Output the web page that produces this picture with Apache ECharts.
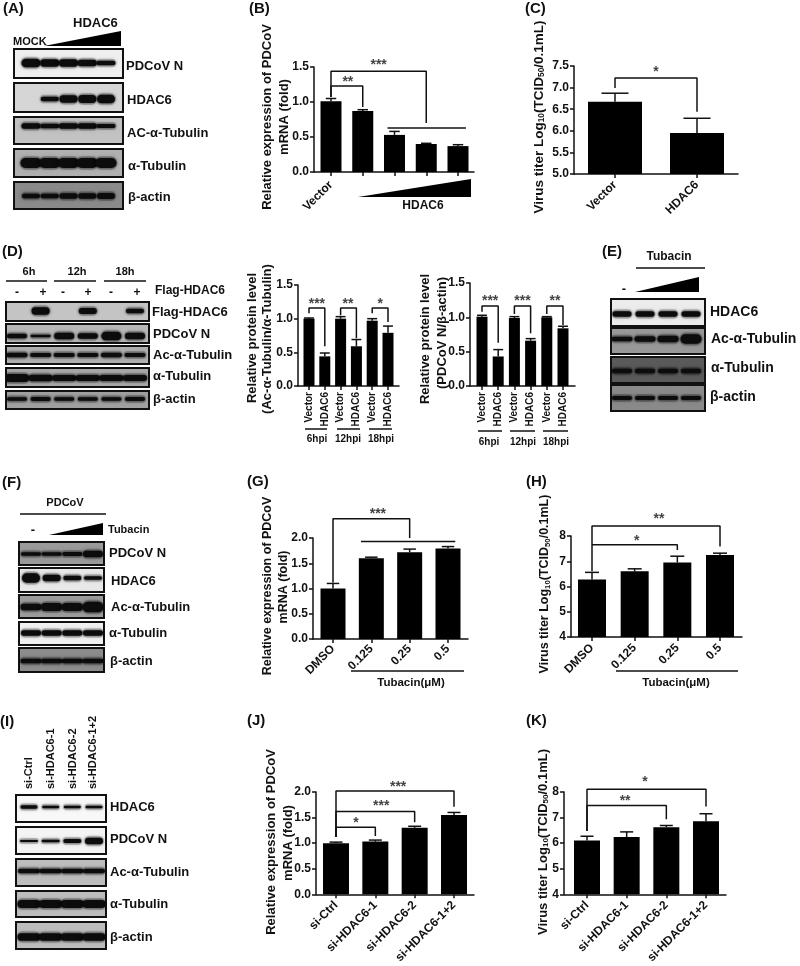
<!DOCTYPE html>
<html><head><meta charset="utf-8">
<style>html,body{margin:0;padding:0;background:#fff}#c{width:800px;height:966px}</style>
<script src="https://cdn.jsdelivr.net/npm/echarts@6/dist/echarts.min.js"></script>
</head><body><div id="c"></div>
<script>
// ---------- bar chart data ----------
const catsB = ['Vector','','','',''];
const valsB = [1.01,0.87,0.53,0.40,0.37];
const errsB = [1.05,0.89,0.58,0.41,0.39];
const catsC = ['Vector','HDAC6'];
const valsC = [6.67,5.95];
const errsC = [6.87,6.29];
const catsD = ['Vector','HDAC6','Vector','HDAC6','Vector','HDAC6'];
const valsD1 = [1.0,0.44,1.0,0.59,0.97,0.79];
const errsD1 = [1.01,0.49,1.03,0.69,1.0,0.89];
const valsD2 = [1.01,0.43,0.99,0.66,1.0,0.84];
const errsD2 = [1.03,0.53,1.01,0.69,1.01,0.87];
const catsTub = ['DMSO','0.125','0.25','0.5'];
const valsG = [1.0,1.6,1.72,1.79];
const errsG = [1.1,1.62,1.78,1.83];
const valsH = [6.28,6.6,6.95,7.25];
const errsH = [6.56,6.7,7.2,7.32];
const catsSi = ['si-Ctrl','si-HDAC6-1','si-HDAC6-2','si-HDAC6-1+2'];
const valsJ = [1.0,1.03,1.3,1.55];
const errsJ = [1.02,1.06,1.33,1.6];
const valsK = [6.1,6.24,6.62,6.86];
const errsK = [6.27,6.44,6.69,7.15];
// significance brackets: [x1, yLeftEnd, yTop, x2, yRightEnd]
const brB = [[0,1.07,1.44,3,0.70],[0,1.07,1.23,1,0.93]];
const brC = [[0,6.99,7.22,1,6.44]];
const brD1 = [[0,1.08,1.16,1,0.59],[2,1.05,1.16,3,0.71],[4,1.08,1.16,5,0.95]];
const brD2 = [[0,1.08,1.165,1,0.63],[2,1.05,1.165,3,0.77],[4,1.05,1.165,5,0.89]];
const brG = [[0,1.12,2.38,2,2.0]];
const brH = [[0,6.6,8.4,3,7.58],[0,7.65,7.65,2,7.45]];
const brJ = [[0,1.12,2.02,3,1.71],[0,1.12,1.62,2,1.41],[0,1.12,1.31,1,1.14]];
const brK = [[0,6.47,8.11,3,7.43],[0,6.47,7.47,2,6.93]];
// horizontal group lines: [x1, x2, y]
const spanB = [[1.78,4.25,0.63]];
const spanG = [[0.73,3.19,1.93]];
// stars: [x, y, text]
const starB = [[1.5,1.57,'***'],[0.53,1.33,'**']];
const starC = [[0.5,7.43,'*']];
const starD1 = [[0.5,1.26,'***'],[2.47,1.26,'**'],[4.5,1.26,'*']];
const starD2 = [[0.5,1.28,'***'],[2.5,1.28,'***'],[4.5,1.28,'**']];
const starG = [[1.17,2.53,'***']];
const starH = [[1.57,8.79,'**'],[1.05,7.92,'*']];
const starJ = [[1.58,2.15,'***'],[1.15,1.79,'***'],[0.51,1.45,'*']];
const starK = [[1.46,8.5,'*'],[0.96,7.77,'**']];
// ---------- western blot band strengths, per lane ----------
const blotNamesA = ['PDCoV N','HDAC6','AC-α-Tubulin','α-Tubulin','β-actin'];
const aN = [26,22,22,20,14], aH = [0,14,22,24,26], aAc = [16,14,16,16,12], aTu = [30,30,30,30,30], aBa = [14,14,16,16,18];
const blotNamesD = ['Flag-HDAC6','PDCoV N','Ac-α-Tubulin','α-Tubulin','β-actin'];
const dF = [0,22,0,18,0,14], dN = [14,7,20,16,26,20], dAc = [14,12,12,12,14,12], dTu = [24,20,18,18,18,18], dBa = [10,12,10,10,10,12];
const blotNamesE = ['HDAC6','Ac-α-Tubulin','α-Tubulin','β-actin'];
const eH = [16,16,16,16], eAc = [14,16,20,28], eTu = [14,14,14,14], eBa = [12,12,12,12];
const blotNamesF = ['PDCoV N','HDAC6','Ac-α-Tubulin','α-Tubulin','β-actin'];
const fN = [10,10,12,20], fH = [28,20,14,10], fAc = [20,24,24,32], fTu = [16,16,16,16], fBa = [14,14,14,14];
const blotNamesI = ['HDAC6','PDCoV N','Ac-α-Tubulin','α-Tubulin','β-actin'];
const iH = [10,7,7,8], iN = [6,8,12,20], iAc = [14,14,14,14], iTu = [24,24,24,24], iBa = [22,22,22,22];
const laneLabelsI = ['si-Ctrl','si-HDAC6-1','si-HDAC6-2','si-HDAC6-1+2'];

// ---------- layout ----------
const F = '"Liberation Sans",Arial,sans-serif';
const grids=[],xAxes=[],yAxes=[],series=[],graphic=[];
function T(text,x,y,size,o){o=o||{};
  graphic.push({type:'text',x,y,rotation:o.rot||0,z:50,style:{text,fill:'#111',font:`bold ${size}px ${F}`,
    align:o.align||'left',verticalAlign:'middle',textAlign:o.align||'left',textVerticalAlign:'middle',rich:o.rich}});}
function L(x1,y1,x2,y2,w){graphic.push({type:'line',z:50,shape:{x1,y1,x2,y2},style:{stroke:'#111',lineWidth:w||1.5}});}
function Tri(a,b,c,d){graphic.push({type:'polygon',z:50,shape:{points:[[a,b],[c,d],[c,b]]},style:{fill:'#000'}});}

function addGrid(g,x,y){const i=grids.length;grids.push(g);x.gridIndex=i;y.gridIndex=i;xAxes.push(x);yAxes.push(y);return i;}

function chart(o){
  const n=o.vals.length, st=(o.last-o.first)/(n-1);
  const xMin=-(o.first-o.x0)/st, xMax=n-1+(o.x1-o.last)/st;
  const all=[...Array(n).keys()];
  const lab=o.cats.map((c,i)=>c?i:-1).filter(i=>i>=0);
  const axLine={lineStyle:{color:'#111',width:1.5}};
  const i=addGrid({left:o.x0,top:o.y0,width:o.x1-o.x0,height:o.y1-o.y0},
   {type:'value',min:xMin,max:xMax,splitLine:{show:false},axisLine:{show:true,onZero:false,...axLine},
    axisTick:{show:true,length:4,customValues:all,lineStyle:{color:'#111',width:1.5}},
    axisLabel:{show:true,customValues:lab,rotate:o.rot,margin:o.margin||9,color:'#111',fontFamily:F,fontWeight:'bold',fontSize:o.xfs||12,
      hideOverlap:false,formatter:v=>o.cats[v]}},
   {type:'value',min:o.ymin,max:o.ymax,interval:o.step,splitLine:{show:false},
    axisLine:{show:true,onZero:false,...axLine},axisTick:{show:true,length:4,lineStyle:{color:'#111',width:1.5}},
    axisLabel:{margin:5,color:'#111',fontFamily:F,fontWeight:'bold',fontSize:12,
      formatter:v=>o.step<1?v.toFixed(1):String(v)}});
  series.push({type:'bar',xAxisIndex:i,yAxisIndex:i,barWidth:o.bw,data:o.vals.map((v,k)=>[k,v]),itemStyle:{color:'#000'},z:3});
  const capW=o.bw*(o.cap||0.5);
  series.push({type:'custom',xAxisIndex:i,yAxisIndex:i,z:2,clip:false,encode:{x:0,y:[1,2]},
    data:o.vals.map((v,k)=>[k,v,o.errs[k]]),
    renderItem:(p,api)=>{const a=api.coord([api.value(0),api.value(1)]),b=api.coord([api.value(0),api.value(2)]);
      const s={stroke:'#111',lineWidth:1.5};
      return {type:'group',children:[
       {type:'line',shape:{x1:a[0],y1:a[1],x2:b[0],y2:b[1]},style:s},
       {type:'line',shape:{x1:b[0]-capW/2,y1:b[1],x2:b[0]+capW/2,y2:b[1]},style:s}]};}});
  (o.br||[]).forEach(b=>series.push({type:'line',xAxisIndex:i,yAxisIndex:i,clip:false,symbol:'none',z:4,
    lineStyle:{color:'#111',width:1.5},data:[[b[0],b[1]],[b[0],b[2]],[b[3],b[2]],[b[3],b[4]]]}));
  (o.span||[]).forEach(b=>series.push({type:'line',xAxisIndex:i,yAxisIndex:i,clip:false,symbol:'none',z:4,
    lineStyle:{color:'#111',width:1.5},data:[[b[0],b[2]],[b[1],b[2]]]}));
  if(o.star)series.push({type:'scatter',xAxisIndex:i,yAxisIndex:i,clip:false,symbolSize:1,itemStyle:{color:'rgba(0,0,0,0)'},z:4,
    data:o.star.map(s=>({value:[s[0],s[1]],label:{formatter:s[2]}})),
    label:{show:true,position:'inside',offset:[0,3],color:'#111',fontFamily:F,fontWeight:'bold',fontSize:14,align:'center',verticalAlign:'middle'}});
}

function blot(o,bands,name){
  const n=bands.length, st=(o.last-o.first)/(n-1);
  const frac=(o.y1-o.by)/(o.y1-o.y0);
  const i=addGrid({show:true,left:o.x0,top:o.y0,width:o.x1-o.x0,height:o.y1-o.y0,backgroundColor:o.bg,borderColor:'#111',borderWidth:2},
    {type:'value',show:false,min:-(o.first-o.x0)/st,max:n-1+(o.x1-o.last)/st},
    {type:'value',show:false,min:0,max:1});
  series.push({type:'custom',name,xAxisIndex:i,yAxisIndex:i,clip:true,encode:{x:0},data:bands.map((b,k)=>[k,b]),
    renderItem:(p,api)=>{const s=api.value(1);if(!s)return null;
      const c=api.coord([api.value(0),frac]),t=s/3,w=o.bw;
      return {type:'group',children:[
       {type:'rect',shape:{x:c[0]-w/2-1,y:c[1]-t/2-2,width:w+2,height:t+4,r:t/2+2},
        style:{fill:'rgba(0,0,0,0.18)',shadowBlur:5,shadowColor:'rgba(0,0,0,0.3)'}},
       {type:'rect',shape:{x:c[0]-w/2,y:c[1]-t/2,width:w,height:t,r:t/2},
        style:{fill:'#0c0c0c',shadowBlur:3,shadowColor:'rgba(0,0,0,0.7)'}}]};}});
  T(name,o.lx,o.ly,o.fs||13);
}

// Panel letters
[['(A)',3,9],['(B)',249,9],['(C)',525,9],['(D)',2,252],['(E)',602,252],['(F)',2,483],['(G)',247,482],['(H)',526,482],['(I)',0,722],['(J)',247,721],['(K)',526,721]]
 .forEach(p=>T(p[0],p[1],p[2],15));

// --- A ---
const colA={x0:14,x1:123,first:31,last:106};
[[49,78,63,'#efefef',aN,19,126,66],[83,112,99,'#d6d6d6',aH,18,127,100],[117,144,126,'#c2c2c2',aAc,19,127,133],[149,177,163,'#b0b0b0',aTu,21,128,166],[182,209,196,'#8a8a8a',aBa,18,128,197]]
 .forEach((r,k)=>blot({...colA,y0:r[0],y1:r[1],by:r[2],bg:r[3],bw:r[5],lx:r[6],ly:r[7]},r[4],blotNamesA[k]));
T('MOCK',13,42,11);T('HDAC6',73,23,13);Tri(44,46,121,31);

// --- D ---
const colD={x0:6,x1:149,first:17,last:135};
[[302,321,311,'#c4c4c4',dF,18,152,312],[324,343,336,'#b8b8b8',dN,20,153,334],[346,364,355,'#b0b0b0',dAc,21,153,355],[368,387,378,'#a8a8a8',dTu,24,153,376],[391,409,399,'#a0a0a0',dBa,20,153,399]]
 .forEach((r,k)=>blot({...colD,y0:r[0],y1:r[1],by:r[2],bg:r[3],bw:r[5],lx:r[6],ly:r[7]},r[4],blotNamesD[k]));
[['6h',29],['12h',77],['18h',125]].forEach(t=>T(t[0],t[1],272,11,{align:'center'}));
L(6,281,47,281);L(54,281,96,281);L(104,281,146,281);
[['-',17],['+',43],['-',63],['+',88],['-',111],['+',137]].forEach(t=>T(t[0],t[1],293,12,{align:'center'}));
T('Flag-HDAC6',155,291,12);

// --- E ---
const colE={x0:611,x1:705,first:622,last:691};
[[299,326,314,'#ececec',eH,19,710,312],[328,354,339,'#989898',eAc,21,711,339],[357,383,371,'#5a5a5a',eTu,20,711,368],[385,411,398,'#8a8a8a',eBa,20,710,397]]
 .forEach((r,k)=>blot({...colE,y0:r[0],y1:r[1],by:r[2],bg:r[3],bw:r[5],lx:r[6],ly:r[7],fs:14},r[4],blotNamesE[k]));
T('Tubacin',669,257,12,{align:'center'});L(636,268,705,268);T('-',624,289,13,{align:'center'});Tri(635,292,699,277);

// --- F ---
const colF={x0:19,x1:104,first:31,last:93};
[[542,565,554,'#9a9a9a',fN,20,109,553],[568,592,578,'#e8e8e8',fH,18,111,581],[595,618,607,'#9c9c9c',fAc,21,111,607],[622,645,633,'#f0f0f0',fTu,20,109,633],[648,672,661,'#8c8c8c',fBa,21,110,661]]
 .forEach((r,k)=>blot({...colF,y0:r[0],y1:r[1],by:r[2],bg:r[3],bw:r[5],lx:r[6],ly:r[7]},r[4],blotNamesF[k]));
T('PDCoV',65,503,11,{align:'center'});L(20,514,106,514);T('-',33,530,13,{align:'center'});Tri(49,535,103,523);T('Tubacin',108,530,11);

// --- I ---
const colI={x0:16,x1:106,first:29,last:94};
[[795,822,807,'#f8f8f8',iH,17,110,807],[827,854,841,'#f4f4f4',iN,18,110,839],[859,886,871,'#bdbdbd',iAc,22,110,872],[891,917,904,'#bdbdbd',iTu,23,110,904],[922,949,937,'#bdbdbd',iBa,23,110,937]]
 .forEach((r,k)=>blot({...colI,y0:r[0],y1:r[1],by:r[2],bg:r[3],bw:r[5],lx:r[6],ly:r[7]},r[4],blotNamesI[k]));
laneLabelsI.forEach((t,k)=>T(t,[29,51,73,93][k],789,11,{rot:Math.PI/2}));

// --- bar charts ---
chart({x0:314,x1:474,y0:67,y1:172,first:331,last:458,ymin:0,ymax:1.5,step:0.5,cats:catsB,vals:valsB,errs:errsB,bw:21,rot:45,margin:11,br:brB,span:spanB,star:starB});
chart({x0:574,x1:738,y0:66,y1:174,first:615,last:697,ymin:5,ymax:7.5,step:0.5,cats:catsC,vals:valsC,errs:errsC,bw:54,rot:45,margin:9,br:brC,star:starC});
chart({x0:298,x1:399,y0:285,y1:386,first:309,last:388,ymin:0,ymax:1.5,step:0.5,cats:catsD,vals:valsD1,errs:errsD1,bw:11,rot:90,margin:6,xfs:10,cap:0.9,br:brD1,star:starD1});
chart({x0:470,x1:575,y0:283,y1:386,first:482,last:563,ymin:0,ymax:1.5,step:0.5,cats:catsD,vals:valsD2,errs:errsD2,bw:11,rot:90,margin:6,xfs:10,cap:0.9,br:brD2,star:starD2});
chart({x0:313,x1:468,y0:538,y1:639,first:333,last:448,ymin:0,ymax:2,step:0.5,cats:catsTub,vals:valsG,errs:errsG,bw:25,rot:45,margin:8,br:brG,span:spanG,star:starG});
chart({x0:571,x1:742,y0:536,y1:637,first:592,last:720,ymin:4,ymax:8,step:1,cats:catsTub,vals:valsH,errs:errsH,bw:28,rot:45,margin:9,br:brH,star:starH});
chart({x0:316,x1:474,y0:792,y1:897,first:336,last:454,ymin:0,ymax:2,step:0.5,cats:catsSi,vals:valsJ,errs:errsJ,bw:26,rot:45,margin:9,br:brJ,star:starJ});
chart({x0:564,x1:726,y0:792,y1:897,first:587,last:706,ymin:4,ymax:8,step:1,cats:catsSi,vals:valsK,errs:errsK,bw:26,rot:45,margin:9,br:brK,star:starK});

// --- chart annotations ---
const R=Math.PI/2;
function vRich(fs){return {s:{fontSize:fs*0.62,fontWeight:'bold',fontFamily:F,color:'#111',verticalAlign:'bottom',padding:[3,0,0,0]},
  n:{fontSize:fs,fontWeight:'bold',fontFamily:F,color:'#111'}};}
const virus='{n|Virus titer Log}{s|10}{n|(TCID}{s|50}{n|/0.1mL)}';
T('Relative expression of PDCoV',267,117,13,{rot:R,align:'center'});T('mRNA (fold)',284,117,13,{rot:R,align:'center'});
Tri(358,197,471,179);T('HDAC6',423,206,12,{align:'center'});
T(virus,539,117,13.5,{rot:R,align:'center',rich:vRich(13.5)});
T('Relative protein level',252,338,13,{rot:R,align:'center'});T('(Ac-α-Tubulin/α-Tubulin)',267,339,13,{rot:R,align:'center'});
L(305,429,327,429);L(337,429,360,429);L(369,429,392,429);
[['6hpi',317],['12hpi',348],['18hpi',381]].forEach(t=>T(t[0],t[1],439,10,{align:'center'}));
T('Relative protein level',425,339,13,{rot:R,align:'center'});T('(PDCoV N/β-actin)',442,333,13,{rot:R,align:'center'});
L(478,431,502,431);L(510,431,535,431);L(543,431,568,431);
[['6hpi',489],['12hpi',523],['18hpi',556]].forEach(t=>T(t[0],t[1],442,10,{align:'center'}));
T('Relative expression of PDCoV',268,586,12.5,{rot:R,align:'center'});T('mRNA (fold)',284,587,12.5,{rot:R,align:'center'});
L(351,671,464,671);T('Tubacin(μM)',411,683,11.5,{align:'center'});
T(virus,545,584,12.5,{rot:R,align:'center',rich:vRich(12.5)});
L(616,671,738,671);T('Tubacin(μM)',676,683,11.5,{align:'center'});
T('Relative expression of PDCoV',271,842,13,{rot:R,align:'center'});T('mRNA (fold)',288,843,13,{rot:R,align:'center'});
T(virus,543,842,13,{rot:R,align:'center',rich:vRich(13)});

const chartInst=echarts.init(document.getElementById('c'),null,{renderer:'canvas',width:800,height:966});
chartInst.setOption({animation:false,backgroundColor:'#fff',textStyle:{fontFamily:F},grid:grids,xAxis:xAxes,yAxis:yAxes,series,graphic:{elements:graphic},tooltip:{show:false}});
</script></body></html>
